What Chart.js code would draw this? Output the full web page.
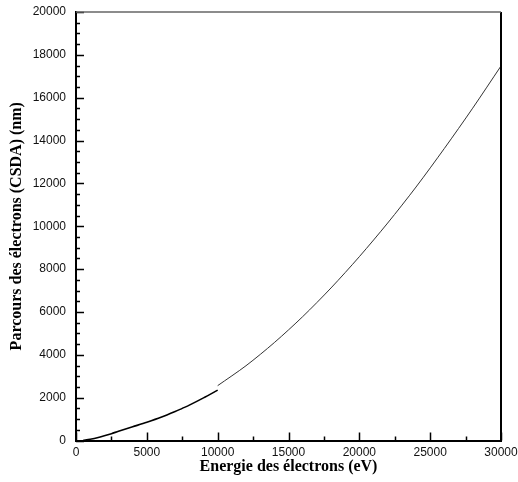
<!DOCTYPE html>
<html>
<head>
<meta charset="utf-8">
<title>Parcours des électrons (CSDA)</title>
<script src="https://cdn.jsdelivr.net/npm/chart.js@4"></script>
<style>
  html, body { margin: 0; padding: 0; background: #fff; }
  #box { width: 518px; height: 482px; }
</style>
</head>
<body>
<div id="box"><canvas id="myChart"></canvas></div>
<script>
// energie (eV) et parcours CSDA (nm), lus sur la figure
// premier jeu : basse energie, jusqu'a 10 keV
let energieBasse = [500, 1000, 1500, 2000, 2500, 3000, 4000, 5000, 6000, 7000, 7500, 8000, 9000, 10000];
let parcoursBas = [0, 60, 130, 220, 320, 430, 640, 850, 1080, 1350, 1500, 1650, 1990, 2350];
// second jeu : 10 keV a 30 keV
let energieHaute = [10000, 12000, 14000, 16000, 18000, 20000, 22000, 24000, 26000, 28000, 30000];
let parcoursHaut = [2560, 3490, 4570, 5780, 7120, 8580, 10150, 11830, 13630, 15510, 17480];

let xMajor = 5000, xMinor = 2500;
let yMajor = 2000, yMinor = 500;

function points(xs, ys) {
	return xs.map(function(x, i) { return {x: x, y: ys[i]}; });
}

// pas de marge automatique pour les etiquettes, on la fixe a la main
function noPad(scale) {
	scale.paddingTop = 0;
	scale.paddingBottom = 0;
	scale.paddingLeft = 0;
	scale.paddingRight = 0;
}

// petites graduations tournees vers l'interieur + cadre haut/droite
const innerTicks = {
	id: 'innerTicks',
	afterDraw(chart) {
		const ctx = chart.ctx;
		const a = chart.chartArea;
		const sx = chart.scales.x, sy = chart.scales.y;
		ctx.save();
		ctx.strokeStyle = '#000';
		ctx.lineWidth = 1.5;
		ctx.beginPath();
		for (let v = sx.min; v <= sx.max; v += xMinor) {
			const px = Math.round(sx.getPixelForValue(v)) + 0.5;
			const len = (v % xMajor === 0) ? 8 : 4;
			ctx.moveTo(px, a.bottom);
			ctx.lineTo(px, a.bottom - len);
		}
		for (let v = sy.min; v <= sy.max; v += yMinor) {
			const py = Math.round(sy.getPixelForValue(v)) + 0.5;
			const len = (v % yMajor === 0) ? 8 : 4;
			ctx.moveTo(a.left, py);
			ctx.lineTo(a.left + len, py);
		}
		ctx.stroke();
		// cadre
		ctx.lineWidth = 2;
		ctx.strokeStyle = '#000';
		ctx.beginPath();
		ctx.moveTo(a.right, a.top);
		ctx.lineTo(a.right, a.bottom);
		ctx.stroke();
		ctx.lineWidth = 1.5;
		ctx.strokeStyle = '#666';
		ctx.beginPath();
		ctx.moveTo(a.left, a.top);
		ctx.lineTo(a.right, a.top);
		ctx.stroke();
		ctx.restore();
	}
};

let tickFont = {family: 'Liberation Sans', size: 12};
let titleFont = {family: 'Liberation Serif', size: 16, weight: 'bold', lineHeight: 1.2};

let myChart = document.getElementById('myChart').getContext('2d');
let chart = new Chart(myChart, {
	type: 'scatter',
	data: {
		datasets: [{
			label: 'bas',
			data: points(energieBasse, parcoursBas),
			showLine: true,
			borderColor: '#000',
			borderWidth: 1.6,
			pointRadius: 0,
			tension: 0.3
		}, {
			label: 'haut',
			data: points(energieHaute, parcoursHaut),
			showLine: true,
			borderColor: '#333',
			borderWidth: 1,
			pointRadius: 0,
			tension: 0.3
		}]
	},
	options: {
		responsive: true,
		maintainAspectRatio: false,
		animation: false,
		layout: {
			padding: {left: 0, right: 17, top: 12, bottom: 0}
		},
		plugins: {
			legend: {display: false},
			tooltip: {enabled: false}
		},
		scales: {
			x: {
				type: 'linear',
				min: 0,
				max: 30000,
				afterFit: function(scale) { scale.height = 41.5; noPad(scale); },
				ticks: {
					stepSize: 5000,
					color: '#111',
					font: tickFont,
					padding: 5,
					maxRotation: 0,
					callback: function(v) { return String(v); }
				},
				grid: {drawOnChartArea: false, drawTicks: false},
				border: {display: true, color: '#000', width: 2},
				title: {
					display: true,
					text: 'Energie des électrons (eV)',
					color: '#000',
					font: titleFont,
					padding: {top: 0, bottom: 6}
				}
			},
			y: {
				type: 'linear',
				min: 0,
				max: 20000,
				afterFit: function(scale) { scale.width = 76; noPad(scale); },
				ticks: {
					stepSize: 2000,
					color: '#111',
					font: tickFont,
					padding: 10,
					callback: function(v) { return String(v); }
				},
				grid: {drawOnChartArea: false, drawTicks: false},
				border: {display: true, color: '#000', width: 2},
				title: {
					display: true,
					text: 'Parcours des électrons (CSDA) (nm)',
					color: '#000',
					font: titleFont,
					padding: {top: 7, bottom: 0}
				}
			}
		}
	},
	plugins: [innerTicks]
});
</script>
</body>
</html>
